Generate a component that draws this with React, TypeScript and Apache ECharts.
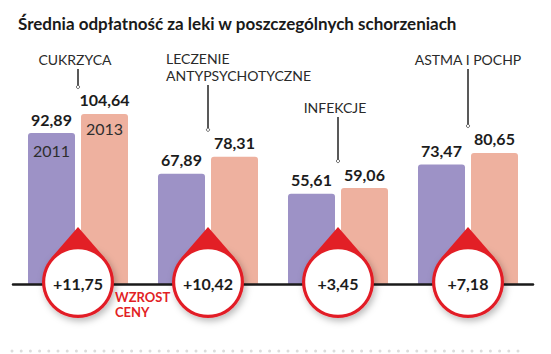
import React, { useEffect, useRef } from "react";
import * as echarts from "echarts";

// ---- data ----
const CATEGORIES = ["CUKRZYCA", "LECZENIE\nANTYPSYCHOTYCZNE", "INFEKCJE", "ASTMA I POCHP"];
const YEARS = ["2011", "2013"];
const V2011 = [92.89, 67.89, 55.61, 73.47];
const V2013 = [104.64, 78.31, 59.06, 80.65];
const INCREASE = [11.75, 10.42, 3.45, 7.18];
const TITLE = "Średnia odpłatność za leki w poszczególnych schorzeniach";
const NOTE = "WZROST\nCENY";

// ---- layout / style ----
const FONT = "Lato, 'Noto Sans', sans-serif";
const PURPLE = "#9d92c6";
const PINK = "#eeb19f";
const RED = "#e21f26";
const INK = "#1c1c1c";
const BAR_W = 47;
const BAR_GAP_PX = 6;
const LABEL_TOP = [51, 50, 99, 51];
const LABEL_ALIGN = ["center", "left", "center", "center"];
const LABEL_DX = [-3, -42, -3, 0];

const fmt = (v: number) => v.toFixed(2).replace(".", ",");

export default function App() {
  const ref = useRef<HTMLDivElement>(null);
  useEffect(() => {
    if (!ref.current) return;
    const chart = echarts.init(ref.current, undefined, { renderer: "svg" });
    const half = (BAR_W + BAR_GAP_PX) / 2;

    const renderItem = (params: any, api: any) => {
      const i = api.value(0);
      const v1 = api.value(1);
      const v2 = api.value(2);
      const inc = api.value(3);
      const base = api.coord([i, 0]);
      const cx = base[0];
      const by = base[1];
      const top1 = api.coord([i, v1])[1];
      const top2 = api.coord([i, v2])[1];
      const children: any[] = [];

      // category label + leader line
      const nLines = CATEGORIES[i].split("\n").length;
      const lt = LABEL_TOP[i];
      children.push({
        type: "text",
        x: cx + LABEL_DX[i],
        y: lt,
        style: {
          text: CATEGORIES[i],
          fill: "#2a2a2a",
          font: `14px ${FONT}`,
          align: LABEL_ALIGN[i],
          verticalAlign: "top",
          lineHeight: 17,
        },
      });
      const ls = lt + nLines * 17 + 1;
      const le = top2 - 28;
      children.push({
        type: "line",
        shape: { x1: cx, y1: ls, x2: cx, y2: le },
        style: { stroke: "#222", lineWidth: 1.5 },
      });
      children.push({
        type: "circle",
        shape: { cx, cy: le + 1, r: 1.6 },
        style: { fill: "#fff", stroke: "#444", lineWidth: 0.8 },
      });

      // year labels in first group
      if (i === 0) {
        children.push({
          type: "text",
          x: cx - half,
          y: top1 + 17,
          style: { text: YEARS[0], fill: "#2e2e2e", font: `16px ${FONT}`, align: "center", verticalAlign: "middle" },
        });
        children.push({
          type: "text",
          x: cx + half,
          y: top2 + 15,
          style: { text: YEARS[1], fill: "#2e2e2e", font: `16px ${FONT}`, align: "center", verticalAlign: "middle" },
        });
      }

      // drop badge
      const cy = by - 2;
      const R = 36;
      const apexY = cy - 55;
      const ang = Math.acos(R / 55);
      const tx = R * Math.sin(ang);
      const ty = R * Math.cos(ang);
      children.push({
        type: "group",
        children: [
          {
            type: "circle",
            shape: { cx, cy, r: R },
            style: { fill: RED, shadowBlur: 7, shadowColor: "rgba(0,0,0,0.28)", shadowOffsetX: 2, shadowOffsetY: 3 },
          },
          {
            type: "polygon",
            shape: { points: [[cx, apexY], [cx - tx, cy - ty], [cx + tx, cy - ty]] },
            style: { fill: RED },
          },
          {
            type: "circle",
            shape: { cx, cy, r: R - 3.2 },
            style: { fill: "#fff" },
          },
          {
            type: "text",
            x: cx,
            y: cy + 1,
            style: {
              text: "+" + fmt(inc),
              fill: INK,
              font: `bold 16px ${FONT}`,
              align: "center",
              verticalAlign: "middle",
            },
          },
        ],
      });
      return { type: "group", children };
    };

    const valueLabel = {
      show: true,
      position: "top",
      distance: 6,
      color: INK,
      fontFamily: FONT,
      fontWeight: "bold",
      fontSize: 16,
      formatter: (p: any) => fmt(p.value),
    };

    chart.setOption({
      animation: false,
      title: {
        text: TITLE,
        left: 13,
        top: 10,
        textStyle: { fontFamily: FONT, fontWeight: "bold", fontSize: 17, color: "#1a1a1a" },
      },
      grid: { left: 13, right: 18, top: 24, bottom: 70 },
      xAxis: {
        type: "category",
        data: CATEGORIES,
        z: 3,
        axisLine: { show: true, lineStyle: { color: "#1a1a1a", width: 2.5 } },
        axisTick: { show: false },
        axisLabel: { show: false },
        splitLine: { show: false },
      },
      yAxis: { type: "value", min: 0, max: 160, show: false, splitLine: { show: false } },
      series: [
        {
          name: YEARS[0],
          type: "bar",
          data: V2011,
          barWidth: BAR_W,
          barGap: (BAR_GAP_PX / BAR_W) * 100 + "%",
          itemStyle: { color: PURPLE, borderRadius: [3, 3, 0, 0] },
          label: valueLabel,
        },
        {
          name: YEARS[1],
          type: "bar",
          data: V2013,
          barWidth: BAR_W,
          itemStyle: { color: PINK, borderRadius: [3, 3, 0, 0] },
          label: valueLabel,
        },
        {
          type: "custom",
          z: 10,
          renderItem,
          encode: { x: 0, y: 2 },
          data: CATEGORIES.map((_, i) => [i, V2011[i], V2013[i], INCREASE[i]]),
        },
      ],
      graphic: [
        {
          type: "text",
          left: 115,
          top: 289,
          z: 20,
          style: { text: NOTE, fill: RED, font: `bold 13px ${FONT}`, lineHeight: 15 },
        },
        {
          type: "line",
          shape: { x1: 12, y1: 351, x2: 526, y2: 351 },
          style: { stroke: "#dcdcdc", lineWidth: 3, lineDash: [0, 9.2], lineCap: "round" },
        },
      ],
    });
    return () => chart.dispose();
  }, []);
  return (
    <div
      ref={ref}
      style={{ position: "fixed", left: 0, top: 0, width: 551, height: 354, background: "#fff" }}
    />
  );
}
